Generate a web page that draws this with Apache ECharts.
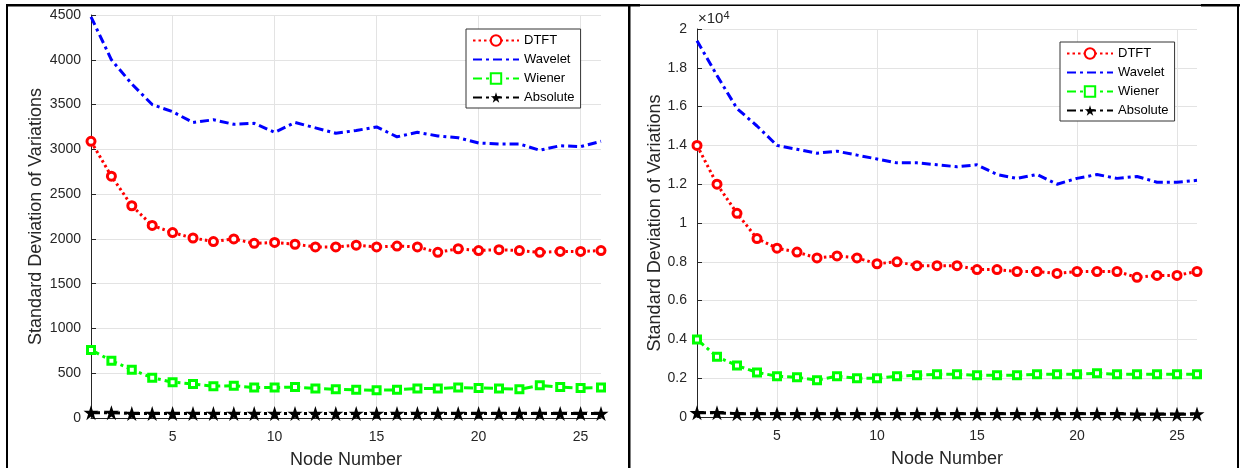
<!DOCTYPE html>
<html><head><meta charset="utf-8">
<script src="https://cdn.jsdelivr.net/npm/echarts@6/dist/echarts.min.js"></script>
<style>html,body{margin:0;padding:0;background:#fff}#c{width:1240px;height:468px}</style>
</head><body><div id="c"></div>
<script>
const nodes = ['1','2','3','4','5','6','7','8','9','10','11','12','13','14','15','16','17','18','19','20','21','22','23','24','25','26'];
const seriesNames = ['DTFT','Wavelet','Wiener','Absolute'];
// Left panel
const dtftL = [3090,2700,2370,2150,2070,2010,1970,2000,1950,1960,1940,1910,1910,1930,1910,1920,1910,1850,1890,1870,1880,1870,1850,1860,1860,1870];
const waveletL = [4480,4000,3730,3500,3420,3300,3330,3280,3290,3190,3300,3240,3180,3210,3250,3140,3190,3150,3130,3070,3060,3060,2990,3040,3030,3090];
const wienerL = [760,640,540,450,400,380,355,360,340,340,345,330,320,315,310,315,330,330,340,335,330,320,365,345,335,340];
const absoluteL = [60,60,50,50,50,50,50,50,50,50,50,50,50,50,50,50,50,50,50,50,50,50,50,50,50,50];
// Right panel
const dtftR = [14000,12000,10500,9200,8700,8500,8200,8300,8200,7900,8000,7800,7800,7800,7600,7600,7500,7500,7400,7500,7500,7500,7200,7300,7300,7500];
const waveletR = [19400,17600,15900,15000,14000,13800,13600,13700,13500,13300,13100,13100,13000,12900,13000,12500,12300,12500,12000,12300,12500,12300,12400,12100,12100,12200];
const wienerR = [4000,3100,2650,2300,2100,2050,1900,2100,2000,2000,2100,2150,2200,2200,2150,2150,2150,2200,2200,2200,2250,2200,2200,2200,2200,2200];
const absoluteR = [220,220,170,170,170,170,170,170,170,170,170,170,170,170,170,170,170,170,170,170,170,170,140,140,140,150];

const FONT = 'Liberation Sans, Arial, sans-serif';
const TXT = '#262626';
const STAR = 'path://M50,0 L61.8,36 L99,36 L69,58.5 L80.5,95 L50,72.5 L19.5,95 L31,58.5 L1,36 L38.2,36 Z';
const DASHDOT = [9,4,3,4];

function mkSeries(gi, d, w, wi, a) {
  return [
    {name:'DTFT', type:'line', xAxisIndex:gi, yAxisIndex:gi, data:d, clip:false,
     symbol:'circle', symbolSize:8, showAllSymbol:true,
     lineStyle:{color:'#ff0000', width:3, type:[2.5,3]},
     itemStyle:{color:'#ffffff', borderColor:'#ff0000', borderWidth:3}},
    {name:'Wavelet', type:'line', xAxisIndex:gi, yAxisIndex:gi, data:w, clip:false,
     symbol:'none', lineStyle:{color:'#0000ff', width:3, type:DASHDOT},
     itemStyle:{color:'#0000ff'}},
    {name:'Wiener', type:'line', xAxisIndex:gi, yAxisIndex:gi, data:wi, clip:false,
     symbol:'rect', symbolSize:7, showAllSymbol:true,
     lineStyle:{color:'#00ff00', width:3, type:DASHDOT},
     itemStyle:{color:'#ffffff', borderColor:'#00ff00', borderWidth:3}},
    {name:'Absolute', type:'line', xAxisIndex:gi, yAxisIndex:gi, data:a, clip:false,
     symbol:STAR, symbolSize:15, showAllSymbol:true,
     lineStyle:{color:'#000000', width:3, type:DASHDOT},
     itemStyle:{color:'#000000'}}
  ];
}
function mkX(gi) {
  const show = (i, v) => (Number(v) % 5 === 0);
  return {type:'category', gridIndex:gi, data:nodes, boundaryGap:false,
    name:'Node Number', nameLocation:'middle', nameGap:33,
    nameTextStyle:{fontFamily:FONT, fontSize:18, color:TXT},
    axisLine:{lineStyle:{color:'#262626', width:1}},
    axisTick:{inside:true, length:5, interval:show, lineStyle:{color:'#262626'}},
    axisLabel:{interval:show, fontFamily:FONT, fontSize:14, color:TXT, margin:12},
    splitLine:{show:true, interval:show, lineStyle:{color:'#e3e3e3', width:1}}};
}
function mkY(gi, max, interval, fmt, gap) {
  return {type:'value', gridIndex:gi, min:0, max:max, interval:interval,
    name:'Standard Deviation of Variations', nameLocation:'middle', nameGap:gap, nameRotate:90,
    nameTextStyle:{fontFamily:FONT, fontSize:18, color:TXT},
    axisLine:{show:true, lineStyle:{color:'#262626', width:1}},
    axisTick:{show:true, inside:true, length:5, lineStyle:{color:'#262626'}},
    axisLabel:{fontFamily:FONT, fontSize:14, color:TXT, margin:10, formatter:fmt},
    splitLine:{show:true, lineStyle:{color:'#e3e3e3', width:1}}};
}
function mkLegend(gi, left, top) {
  return {data:seriesNames.map(n => n === 'Wavelet' ? {name:n, itemStyle:{opacity:0}} : {name:n}),
    orient:'vertical', left:left, top:top,
    itemWidth:46, itemHeight:13, itemGap:6, padding:[5,6,4,6],
    backgroundColor:'#ffffff', borderColor:'#333333', borderWidth:1, borderRadius:0,
    textStyle:{fontFamily:FONT, fontSize:13, color:'#000'}, selectedMode:false};
}

const chart = echarts.init(document.getElementById('c'), null, {renderer:'canvas'});
const sL = mkSeries(0, dtftL, waveletL, wienerL, absoluteL);
const sR = mkSeries(1, dtftR, waveletR, wienerR, absoluteR);
chart.setOption({
  animation:false,
  backgroundColor:'#ffffff',
  grid:[{left:91, top:15, width:510, height:403, containLabel:false, outerBoundsMode:'none'},
        {left:697, top:29, width:500, height:388, containLabel:false, outerBoundsMode:'none'}],
  xAxis:[mkX(0), mkX(1)],
  yAxis:[mkY(0, 4500, 500, v => String(v), 46),
         mkY(1, 20000, 2000, v => String(+(v/10000).toFixed(1)), 33)],
  legend:[mkLegend(0, 466, 29), mkLegend(1, 1060, 42)],
  series: sL.concat(sR),
  graphic:[
    {type:'rect', shape:{x:6, y:4, width:2, height:470}, style:{fill:'#000'}},
    {type:'rect', shape:{x:6, y:4, width:634, height:2.5}, style:{fill:'#000'}},
    {type:'rect', shape:{x:640, y:4.5, width:600, height:1.5}, style:{fill:'#000'}},
    {type:'rect', shape:{x:1201, y:4, width:39, height:2.5}, style:{fill:'#000'}},
    {type:'rect', shape:{x:628, y:4, width:2.5, height:470}, style:{fill:'#000'}},
    {type:'rect', shape:{x:1237, y:4, width:2, height:470}, style:{fill:'#000'}},
    {type:'text', left:698, top:10, style:{text:'×10{s|4}', fontFamily:FONT, fontSize:15, fill:TXT,
       rich:{s:{fontFamily:FONT, fontSize:11, fill:TXT, verticalAlign:'top', padding:[0,0,6,0]}}}}
  ]
});
</script></body></html>
